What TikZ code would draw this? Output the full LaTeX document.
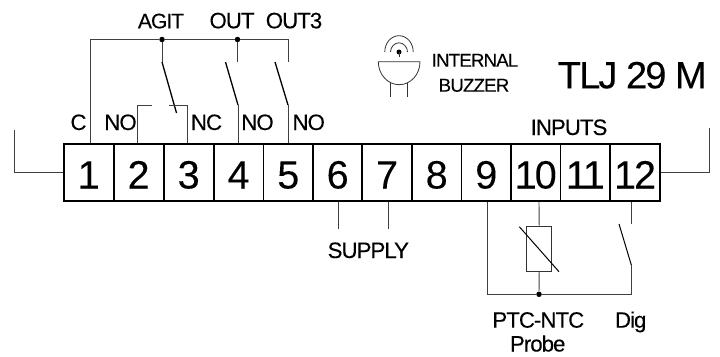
\documentclass[tikz,border=0pt]{standalone}
\usepackage{fontspec}
\setmainfont{Liberation Sans}
\newfontfamily\tightfont[LetterSpace=-4.5,FakeBold=0.15]{Liberation Sans}
\newfontfamily\digitfont[LetterSpace=-5,FakeBold=0.15]{Liberation Sans}
\newfontfamily\titlefont[LetterSpace=-5,FakeBold=0.15]{Liberation Sans}
\tikzset{
  wire/.style={draw=black!75,line width=0.9pt,line join=miter},
  blade/.style={draw=black,line width=1.3pt},
  thinline/.style={draw=black!80,line width=0.8pt},
  cell/.style={draw=black,line width=1.5pt,minimum width=49.7pt,minimum height=57pt,inner sep=0pt,
    text height=32pt,text depth=0pt,font=\digitfont\fontsize{39.5}{39.5}\selectfont},
  lab/.style={anchor=base,inner sep=0pt,font=\tightfont\fontsize{22.3}{23}\selectfont},
  smalllab/.style={anchor=base,inner sep=0pt,font=\tightfont\fontsize{18.7}{20}\selectfont},
  title/.style={anchor=base,inner sep=0pt,font=\titlefont\fontsize{38}{38}\selectfont},
  junction/.style={circle,fill=black,inner sep=0pt,minimum size=5.5pt}
}
\begin{document}
\begin{tikzpicture}[x=1pt,y=-1pt]
\useasboundingbox (0,0) rectangle (720,356);
% terminal strip
\foreach \n/\x in {1/88.7,2/138.6,3/188.7,4/238.6,5/288.3,6/337.7,7/387,8/436.7,9/486.3,10/535.7,11/585.3,12/635}{
  \node[cell] (c\n) at (\x,172.5) {\n};
}
% side brackets
\coordinate (leftEnd) at (14.5,130);
\coordinate (rightEnd) at (709,127.5);
\draw[wire] (c1.west) -- (c1.west -| leftEnd) -- (leftEnd);
\draw[wire] (c12.east) -- (c12.east -| rightEnd) -- (rightEnd);
% common bus
\coordinate (busA) at (90.3,39.5);
\coordinate (busB) at (288,39.5);
\coordinate (busBEnd) at (288,62);
\node[junction] (j1) at (162,39.5) {};
\node[junction] (j2) at (237.5,39.5) {};
\draw[wire] (busA |- c1.north) -- (busA) -- (j1) -- (j2) -- (busB) -- (busBEnd);
% AGIT changeover
\coordinate (agitPivot) at (162,62);
\coordinate (agitTip) at (176.5,113);
\draw[wire] (j1) -- (agitPivot);
\draw[blade] (agitPivot) -- (agitTip);
\coordinate (noCorner) at (137.5,105);
\coordinate (noEnd) at (152,105);
\coordinate (ncCorner) at (187.5,105);
\coordinate (ncEnd) at (169,105);
\draw[wire] (noCorner |- c2.north) -- (noCorner) -- (noEnd);
\draw[wire] (ncCorner |- c3.north) -- (ncCorner) -- (ncEnd);
% OUT contact
\coordinate (outStub) at (237.5,62);
\coordinate (outBladeTop) at (225.5,62);
\coordinate (outPivot) at (238,105);
\draw[wire] (j2) -- (outStub);
\draw[blade] (outBladeTop) -- (outPivot);
\draw[wire] (outPivot) -- (outPivot |- c4.north);
% OUT3 contact
\coordinate (outiiiBladeTop) at (275,62);
\coordinate (outiiiPivot) at (288,105);
\draw[blade] (outiiiBladeTop) -- (outiiiPivot);
\draw[wire] (outiiiPivot) -- (outiiiPivot |- c5.north);
% top labels
\node[lab,font=\tightfont\fontsize{21}{23}\selectfont] (tAgit) at (161,28.3) {AGIT};
\node[lab] (tOut) at (232,28.3) {OUT};
\node[lab] (tOutiii) at (294,28.3) {OUT3};
\node[lab] (tC) at (78.5,130) {C};
\node[lab] (tNoA) at (120.5,130) {NO};
\node[lab] (tNc) at (206.5,130) {NC};
\node[lab] (tNoB) at (257.5,130) {NO};
\node[lab] (tNoC) at (308.7,130) {NO};
\node[lab] (tInputs) at (569,135) {INPUTS};
% buzzer
\coordinate (bL) at (378.3,61.7);
\coordinate (bR) at (420,61.7);
\coordinate (bB) at (399.2,84.7);
\draw[thinline] (bL) -- (bR) .. controls (420,74.4) and (410.7,84.7) .. (bB) .. controls (387.7,84.7) and (378.3,74.4) .. (bL);
\draw[thinline] (390.7,82.5) -- (390.7,96.5);
\draw[thinline] (407.7,82.5) -- (407.7,96.5);
\node[circle,fill=black,inner sep=0pt,minimum size=5pt] (bDot) at (399,52) {};
\draw[thinline] (399,52) -- (399,57);
\draw[thinline] (390.5,52) .. controls (390.5,47) and (394.5,42.8) .. (399,42.8) .. controls (403.5,42.8) and (407.5,47) .. (407.5,52);
\draw[thinline] (384.8,52) .. controls (384.8,43) and (391,35.7) .. (399,35.7) .. controls (407,35.7) and (413.2,43) .. (413.2,52);
\node[smalllab] (tInternal) at (475,66.7) {INTERNAL};
\node[smalllab] (tBuzzer) at (474,91.7) {BUZZER};
\node[title] (tTitle) at (632.3,88.3) {TLJ 29 M};
% supply
\coordinate (supA) at (338.3,229);
\coordinate (supB) at (388.3,229);
\draw[wire] (supA |- c6.south) -- (supA);
\draw[wire] (supB |- c7.south) -- (supB);
\node[lab] (tSupply) at (368.3,258) {SUPPLY};
% inputs
\coordinate (inL) at (487,294.3);
\coordinate (inR) at (631.3,294.3);
\coordinate (digPivot) at (631.3,265);
\coordinate (digTop) at (619,224);
\coordinate (digStub) at (631.3,223.7);
\node[junction] (j3) at (539,294.3) {};
\node[draw=black!80,line width=0.9pt,minimum width=25pt,minimum height=45.7pt,inner sep=0pt] (probe) at (539.2,248.85) {};
\draw[wire] (inL |- c9.south) -- (inL) -- (j3) -- (inR) -- (digPivot);
\draw[blade,line width=1pt] (digPivot) -- (digTop);
\draw[wire] (digStub |- c12.south) -- (digStub);
\draw[wire] (j3 |- c10.south) -- (probe.north);
\draw[wire] (probe.south) -- (j3);
\coordinate (slashA) at (519.3,226.7);
\coordinate (slashB) at (559,271.7);
\draw[blade,line width=1pt] (slashA) -- (slashB);
\node[lab] (tPtc) at (538.3,327.7) {PTC-NTC};
\node[lab] (tProbe) at (537.7,351.5) {Probe};
\node[lab] (tDig) at (630.7,327.7) {Dig};
\end{tikzpicture}
\end{document}
